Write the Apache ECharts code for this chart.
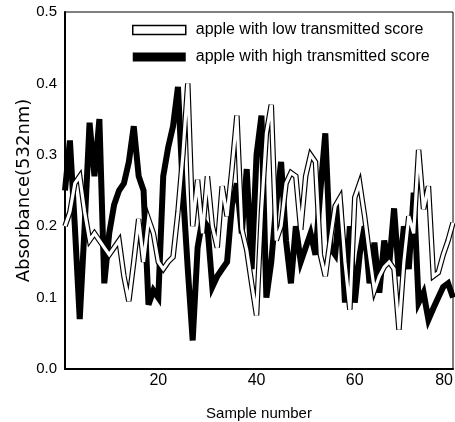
<!DOCTYPE html>
<html>
<head>
<meta charset="utf-8">
<script src="https://cdn.jsdelivr.net/npm/echarts@6/dist/echarts.min.js"></script>
<style>
  html, body { margin: 0; padding: 0; background: #fff; }
  #chart { width: 455px; height: 422px; }
</style>
</head>
<body>
<div id="chart"></div>
<script>
// sample numbers 1..80
var samples = [];
for (var s = 1; s <= 80; s++) { samples.push(String(s)); }

var xTickLabels = ['20', '40', '60', '80'];
var yTickLabels = ['0.0', '0.1', '0.2', '0.3', '0.4', '0.5'];

// absorbance, apple with high transmitted score (black band)
var highScore = [
    0.25, 0.32, 0.20, 0.07, 0.20, 0.345, 0.27, 0.35, 0.12, 0.19,
    0.23, 0.25, 0.26, 0.29, 0.34, 0.27, 0.25, 0.09, 0.11, 0.10,
    0.27, 0.31, 0.34, 0.395, 0.25, 0.14, 0.04, 0.17, 0.21, 0.20,
    0.115, 0.13, 0.14, 0.15, 0.23, 0.26, 0.19, 0.28, 0.14, 0.30,
    0.355, 0.10, 0.15, 0.23, 0.29, 0.18, 0.12, 0.20, 0.15, 0.17,
    0.19, 0.16, 0.25, 0.33, 0.17, 0.16, 0.233, 0.093, 0.20, 0.093,
    0.16, 0.20, 0.12, 0.177, 0.107, 0.18, 0.145, 0.225, 0.13, 0.20,
    0.14, 0.247, 0.093, 0.107, 0.069, 0.085, 0.10, 0.115, 0.12, 0.10
];

// absorbance, apple with low transmitted score (hollow band)
var lowScore = [
    0.20, 0.22, 0.26, 0.27, 0.22, 0.18, 0.19, 0.18, 0.17, 0.16,
    0.17, 0.18, 0.13, 0.095, 0.15, 0.21, 0.15, 0.21, 0.19, 0.15,
    0.14, 0.15, 0.157, 0.22, 0.30, 0.40, 0.20, 0.265, 0.19, 0.27,
    0.20, 0.17, 0.256, 0.214, 0.28, 0.355, 0.196, 0.167, 0.12, 0.075,
    0.22, 0.33, 0.37, 0.18, 0.20, 0.26, 0.275, 0.27, 0.195, 0.27,
    0.30, 0.29, 0.16, 0.13, 0.18, 0.228, 0.24, 0.15, 0.083, 0.24,
    0.26, 0.214, 0.16, 0.11, 0.13, 0.143, 0.15, 0.14, 0.055, 0.15,
    0.214, 0.19, 0.307, 0.224, 0.256, 0.13, 0.135, 0.16, 0.18, 0.205
];

var LOW = 'apple with low transmitted score';
var HIGH = 'apple with high transmitted score';
var sans = '"Liberation Sans", Arial, sans-serif';

var chart = echarts.init(document.getElementById('chart'));

var option = {
    animation: false,
    backgroundColor: '#fff',
    grid: {
        left: 65,
        right: 2,
        top: 12,
        bottom: 53,
        containLabel: false,
        outerBoundsMode: 'none',
        show: true,
        borderColor: '#000',
        borderWidth: 1
    },
    legend: {
        orient: 'vertical',
        left: 127,
        top: 17,
        itemWidth: 53,
        itemHeight: 9,
        itemGap: 11,
        selectedMode: false,
        textStyle: {
            fontFamily: sans,
            fontSize: 16,
            lineHeight: 16,
            color: '#000',
            padding: [0, 0, 0, 5]
        },
        data: [
            { name: LOW, icon: 'rect', itemStyle: { color: '#fff', borderColor: '#000', borderWidth: 1.5 } },
            { name: HIGH, icon: 'rect', itemStyle: { color: '#000', borderColor: '#000', borderWidth: 0 } }
        ]
    },
    xAxis: {
        type: 'category',
        data: samples,
        boundaryGap: false,
        name: 'Sample number',
        nameLocation: 'middle',
        nameGap: 37,
        nameMoveOverlap: false,
        nameTextStyle: { fontFamily: sans, fontSize: 15, color: '#000' },
        axisLine: { lineStyle: { color: '#000', width: 2 } },
        axisTick: { show: false },
        splitLine: { show: false },
        axisLabel: {
            interval: function (index, value) {
                return xTickLabels.indexOf(value) >= 0;
            },
            fontFamily: sans,
            fontSize: 16,
            color: '#000',
            margin: 4,
            alignMaxLabel: 'right'
        }
    },
    yAxis: {
        type: 'value',
        min: 0,
        max: 0.5,
        interval: 0.1,
        name: 'Absorbance(532nm)',
        nameLocation: 'middle',
        nameGap: 32,
        nameMoveOverlap: false,
        nameRotate: 90,
        nameTextStyle: { fontFamily: '"DejaVu Sans", sans-serif', fontSize: 18, color: '#000' },
        axisLine: { show: true, lineStyle: { color: '#000', width: 2 } },
        axisTick: { show: false },
        splitLine: { show: false },
        axisLabel: {
            fontFamily: sans,
            fontSize: 15,
            color: '#000',
            margin: 8,
            formatter: function (v) {
                return yTickLabels[Math.round(v * 10)];
            }
        }
    },
    series: [
        {
            name: HIGH,
            type: 'line',
            data: highScore,
            symbol: 'none',
            z: 3,
            color: '#000',
            lineStyle: { color: '#000', width: 6, join: 'miter', miterLimit: 5 }
        },
        {
            name: LOW,
            type: 'line',
            data: lowScore,
            symbol: 'none',
            z: 4,
            color: '#000',
            lineStyle: { color: '#000', width: 5.5, join: 'miter', miterLimit: 5 }
        },
        {
            name: 'low inner',
            type: 'line',
            data: lowScore,
            symbol: 'none',
            z: 5,
            silent: true,
            lineStyle: { color: '#fff', width: 3.2, join: 'miter', miterLimit: 5 }
        }
    ]
};

chart.setOption(option);
</script>
</body>
</html>
